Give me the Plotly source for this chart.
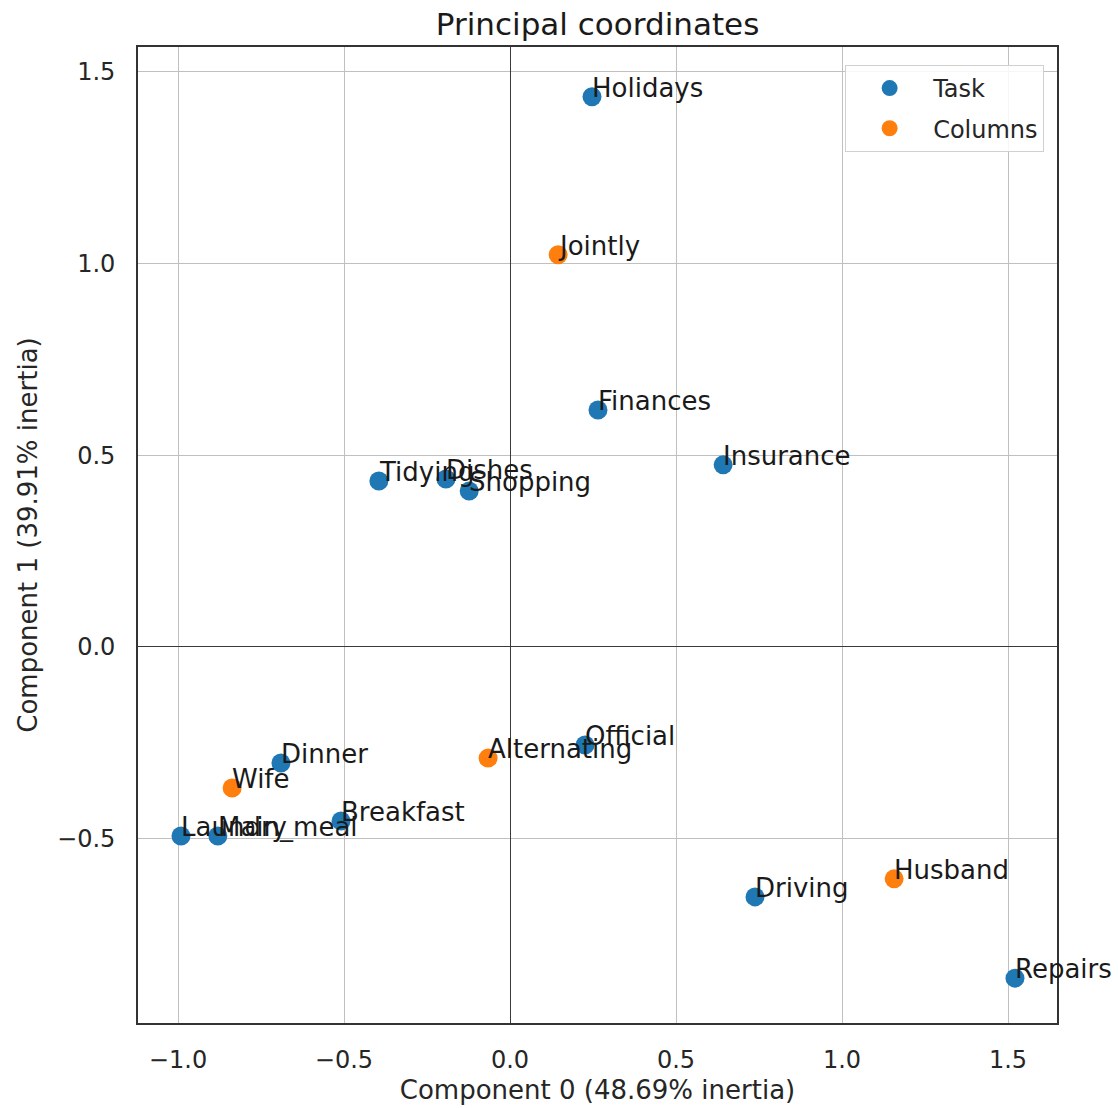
import plotly.graph_objects as go

# ---- data ----
task_names = ["Laundry", "Main_meal", "Dinner", "Breakfast", "Tidying", "Dishes",
              "Shopping", "Official", "Driving", "Finances", "Insurance",
              "Repairs", "Holidays"]
task_x = [-0.991, -0.880, -0.690, -0.509, -0.395, -0.193, -0.123, 0.226,
          0.738, 0.265, 0.642, 1.521, 0.247]
task_y = [-0.493, -0.493, -0.303, -0.454, 0.433, 0.438, 0.407, -0.256,
          -0.652, 0.618, 0.475, -0.864, 1.435]

col_names = ["Wife", "Alternating", "Jointly", "Husband"]
col_x = [-0.837, -0.066, 0.145, 1.157]
col_y = [-0.368, -0.290, 1.023, -0.605]

x_ticks = [-1.0, -0.5, 0.0, 0.5, 1.0, 1.5]
y_ticks = [-0.5, 0.0, 0.5, 1.0, 1.5]

FONT = "DejaVu Sans"
BLUE = "#1f77b4"
ORANGE = "#ff7f0e"

fig = go.Figure()
fig.add_trace(go.Scatter(x=task_x, y=task_y, mode="markers", name="Task",
                         legendgroup="a",
                         marker=dict(color=BLUE, size=19, line=dict(width=0))))
fig.add_trace(go.Scatter(x=col_x, y=col_y, mode="markers", name="Columns",
                         legendgroup="b",
                         marker=dict(color=ORANGE, size=19, line=dict(width=0))))

annotations = []
for n, x, y in list(zip(task_names, task_x, task_y)) + list(zip(col_names, col_x, col_y)):
    annotations.append(dict(x=x, y=y, xref="x", yref="y", text=n, showarrow=False,
                            xanchor="left", yanchor="bottom", xshift=-2, yshift=-8,
                            font=dict(family=FONT, size=26, color="#1a1a1a")))

fig.update_layout(
    width=1118, height=1108,
    margin=dict(l=138, r=61, t=47, b=85),
    paper_bgcolor="white", plot_bgcolor="white",
    font=dict(family=FONT, color="#262626"),
    title=dict(text="Principal coordinates", x=0.5345, xanchor="center",
               y=1 - 24 / 1108, yanchor="middle",
               font=dict(family=FONT, size=31, color="#1a1a1a")),
    showlegend=True,
    legend=dict(x=0.986, y=0.9816, xanchor="right", yanchor="top",
                bgcolor="rgba(255,255,255,0.85)", bordercolor="#d0d0d0",
                borderwidth=1, font=dict(family=FONT, size=24, color="#262626"),
                tracegroupgap=6, itemwidth=77),
    annotations=annotations,
)

fig.update_xaxes(range=[-1.1205, 1.6476], tickvals=x_ticks, tickformat=".1f",
                 automargin=False,
                 showgrid=True, gridcolor="#c0c0c0", gridwidth=1.4,
                 zeroline=True, zerolinecolor="#3a3a3a", zerolinewidth=1.4,
                 showline=True, linecolor="#333333", linewidth=1.6, mirror=True,
                 ticks="outside", ticklen=14, tickcolor="rgba(0,0,0,0)",
                 tickfont=dict(family=FONT, size=24, color="#262626"),
                 title=dict(text="Component 0 (48.69% inertia)", standoff=8,
                            font=dict(family=FONT, size=26, color="#262626")))
fig.update_yaxes(range=[-0.981, 1.565], tickvals=y_ticks, tickformat=".1f",
                 automargin=False,
                 showgrid=True, gridcolor="#c0c0c0", gridwidth=1.4,
                 zeroline=True, zerolinecolor="#3a3a3a", zerolinewidth=1.4,
                 showline=True, linecolor="#333333", linewidth=1.6, mirror=True,
                 ticks="outside", ticklen=16, tickcolor="rgba(0,0,0,0)",
                 tickfont=dict(family=FONT, size=24, color="#262626"),
                 title=dict(text="Component 1 (39.91% inertia)", standoff=12,
                            font=dict(family=FONT, size=26, color="#262626")))

fig.write_html("out.html")
